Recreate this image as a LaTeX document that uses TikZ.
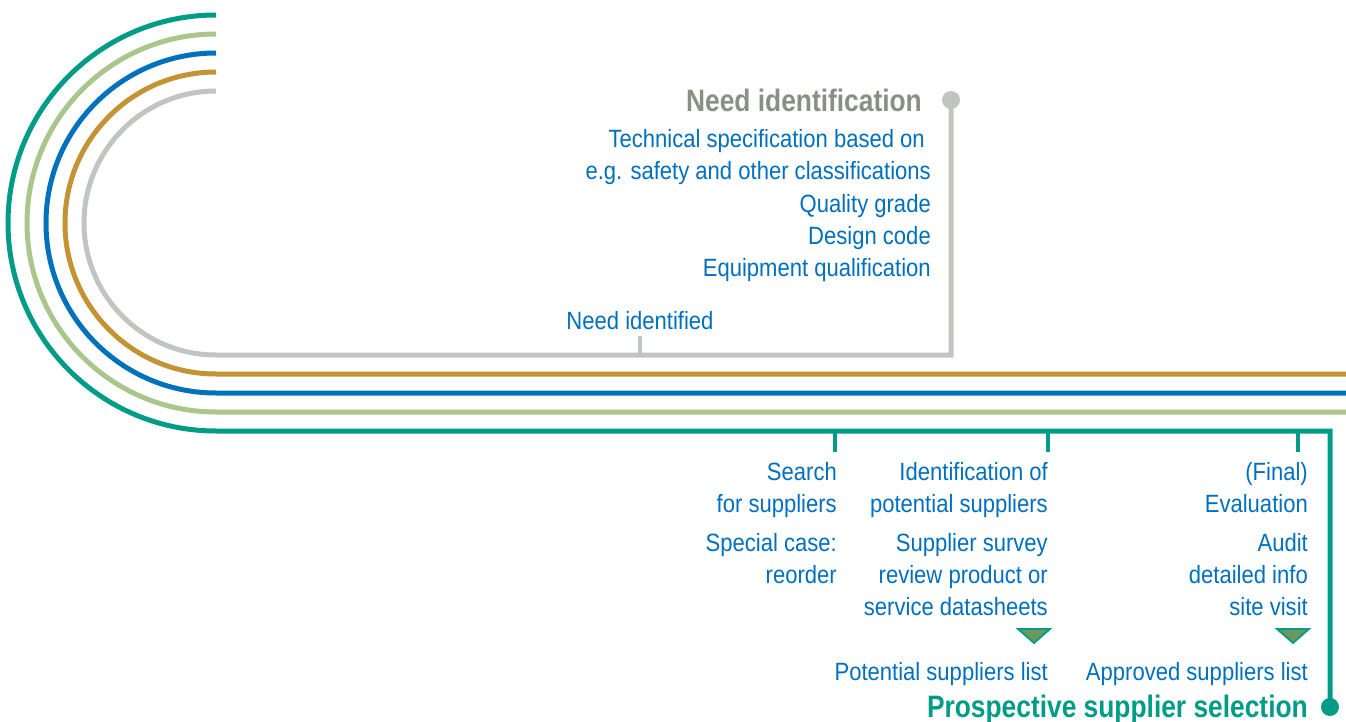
\documentclass[tikz,border=0pt]{standalone}
\usepackage{fontspec}
\setmainfont{Liberation Sans}[FakeStretch=0.882]
\newfontfamily\headfont{Liberation Sans}[FakeStretch=0.85]
\definecolor{cteal}{RGB}{0,156,134}
\definecolor{clgreen}{RGB}{170,198,140}
\definecolor{cblue}{RGB}{0,114,188}
\definecolor{cgold}{RGB}{196,148,52}
\definecolor{clgray}{RGB}{192,197,194}
\definecolor{ctext}{RGB}{0,112,190}
\definecolor{ctitle}{RGB}{138,143,132}
\definecolor{ctri}{RGB}{107,152,94}
\begin{document}
\begin{tikzpicture}[x=1pt,y=-1pt,
  track/.style={line width=5pt},
  tick/.style={line width=4.5pt},
  body/.style={inner sep=0pt,text=ctext,font=\fontsize{25}{32}\selectfont,anchor=base east},
  headline/.style={inner sep=0pt,font=\headfont\fontsize{31}{36}\selectfont\bfseries,anchor=base east},
  marker/.style={draw=cteal,fill=ctri,line width=1.8pt,line join=miter}]
\useasboundingbox (0,0) rectangle (1346,722);

% end points of the tracks
\coordinate (needdot) at (951,100);
\coordinate (needcorner) at (951,355);
\coordinate (selcorner) at (1330,431);
\coordinate (seldot) at (1330,707);

% concentric tracks, outermost first
\draw[track,cteal] (216,15) arc[start angle=270,end angle=90,radius=208] -- (selcorner) -- (seldot);
\draw[track,clgreen] (216,34) arc[start angle=270,end angle=90,radius=189] -- (1346,412);
\draw[track,cblue] (216,53) arc[start angle=270,end angle=90,radius=170] -- (1346,393);
\draw[track,cgold] (216,72) arc[start angle=270,end angle=90,radius=151] -- (1346,374);
\draw[track,clgray] (216,91) arc[start angle=270,end angle=90,radius=132] -- (needcorner) -- (needdot);

% end dots
\fill[clgray] (needdot) circle[radius=9];
\fill[cteal] (seldot) circle[radius=9];

% ticks
\draw[tick,clgray] (640,355) -- (640,336);
\foreach \x in {835,1048,1298} \draw[tick,cteal] (\x,431) -- (\x,452);

% need identification block
\node[headline,text=ctitle] (needtitle) at (922,112) {Need identification};
\node[body] (t1) at (925,148) {Technical specification based on};
\node[body] (t2) at (931,180) {e.g. safety and other classifications};
\node[body] (t3) at (931,212) {Quality grade};
\node[body] (t4) at (931,244) {Design code};
\node[body] (t5) at (931,276) {Equipment qualification};
\node[body,anchor=base] (needid) at (640,329) {Need identified};

% supplier search column
\node[body] (a1) at (837,480) {Search};
\node[body] (a2) at (837,512) {for suppliers};
\node[body] (a3) at (837,551) {Special case:};
\node[body] (a4) at (837,583) {reorder};

% potential suppliers column
\node[body] (b1) at (1048,480) {Identification of};
\node[body] (b2) at (1048,512) {potential suppliers};
\node[body] (b3) at (1048,551) {Supplier survey};
\node[body] (b4) at (1048,583) {review product or};
\node[body] (b5) at (1048,615) {service datasheets};

% evaluation column
\node[body] (c1) at (1308,480) {(Final)};
\node[body] (c2) at (1308,512) {Evaluation};
\node[body] (c3) at (1308,551) {Audit};
\node[body] (c4) at (1308,583) {detailed info};
\node[body] (c5) at (1308,615) {site visit};

% result markers
\draw[marker] (1018,629) -- (1050,629) -- (1034,643) -- cycle;
\draw[marker] (1277,629) -- (1309,629) -- (1293,643) -- cycle;

\node[body] (plist) at (1048,680) {Potential suppliers list};
\node[body] (alist) at (1308,680) {Approved suppliers list};
\node[headline,text=cteal] (seltitle) at (1308,717) {Prospective supplier selection};
\end{tikzpicture}
\end{document}
